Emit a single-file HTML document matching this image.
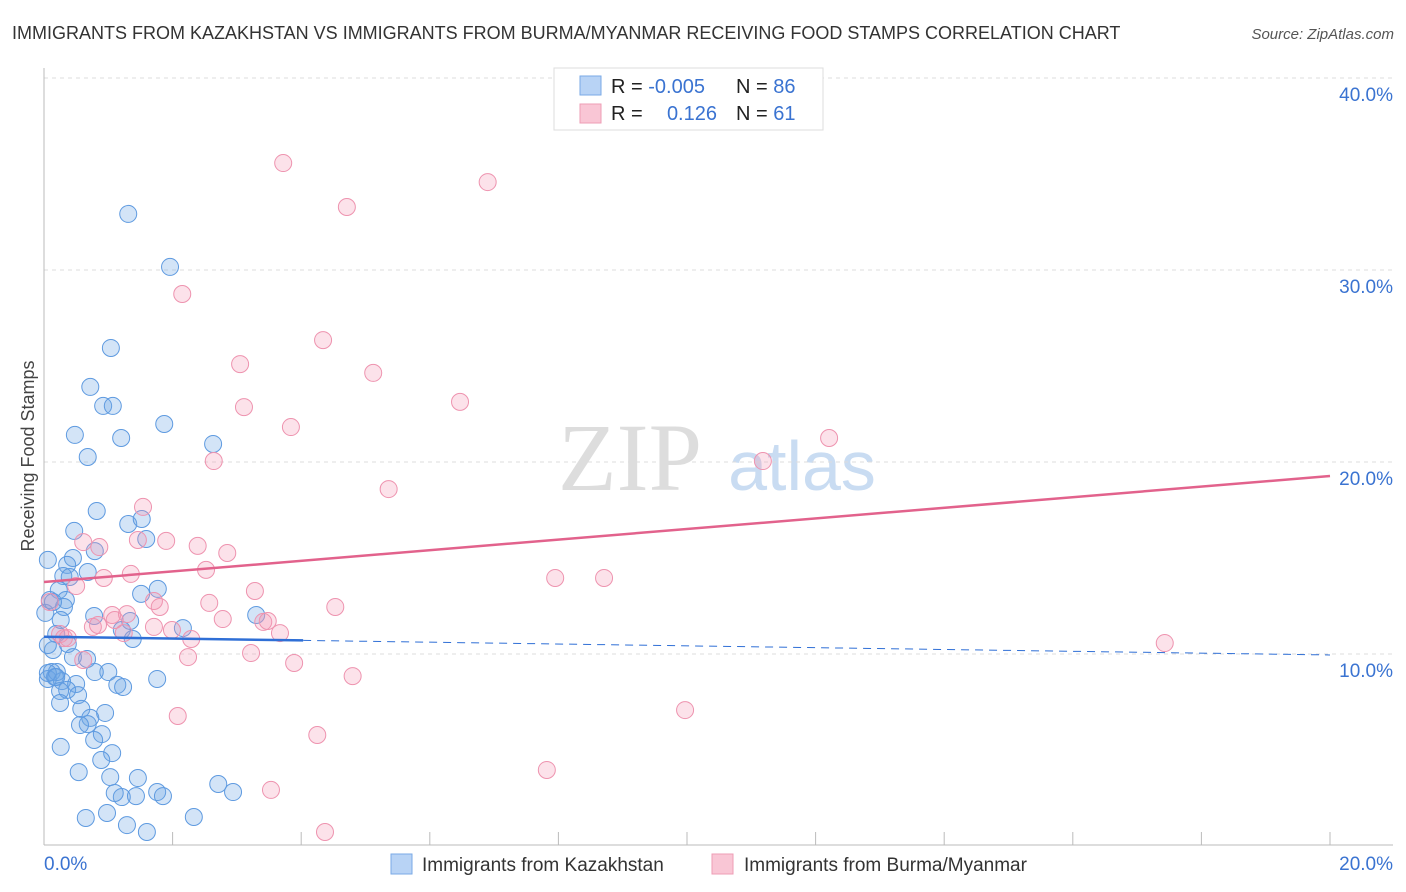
<!DOCTYPE html>
<html><head><meta charset="utf-8"><style>
body{margin:0;background:#fff;font-family:"Liberation Sans",sans-serif;}
svg{display:block}
</style></head><body>
<svg id="chart" width="1406" height="892" viewBox="0 0 1406 892" xmlns="http://www.w3.org/2000/svg">
<text x="12" y="39" font-size="18" fill="#333">IMMIGRANTS FROM KAZAKHSTAN VS IMMIGRANTS FROM BURMA/MYANMAR RECEIVING FOOD STAMPS CORRELATION CHART</text>
<text x="1394" y="39" font-size="15" fill="#555" font-style="italic" text-anchor="end">Source: ZipAtlas.com</text>
<text transform="translate(34,456) rotate(-90)" font-size="18" fill="#444" text-anchor="middle">Receiving Food Stamps</text>
<g>
<text x="630" y="490" font-size="96" fill="#ddd" font-family="Liberation Serif,serif" text-anchor="middle">ZIP</text>
<text x="802" y="490" font-size="70" fill="#c9dcf2" text-anchor="middle">atlas</text>
</g>
<g id="grid"></g><g id="axes"></g><g id="pts"></g><g id="trend"></g>
<g>
<rect x="554" y="68" width="269" height="62" fill="#fff" stroke="#ddd"/>
<rect x="580" y="76" width="21" height="19" fill="#b8d3f5" stroke="#7aaae6"/>
<rect x="580" y="104" width="21" height="19" fill="#f9c6d5" stroke="#ee9db5"/>
<text x="611" y="93" font-size="20" fill="#222">R = <tspan fill="#3a73d1">-0.005</tspan></text>
<text x="736" y="93" font-size="20" fill="#222">N = <tspan fill="#3a73d1">86</tspan></text>
<text x="611" y="120" font-size="20" fill="#222">R = </text>
<text x="717" y="120" font-size="20" fill="#3a73d1" text-anchor="end">0.126</text>
<text x="736" y="120" font-size="20" fill="#222">N = <tspan fill="#3a73d1"> 61</tspan></text>
</g>
<g>
<rect x="391" y="854" width="21" height="20" fill="#b8d3f5" stroke="#7aaae6"/>
<text x="422" y="871" font-size="19" fill="#333">Immigrants from Kazakhstan</text>
<rect x="712" y="854" width="21" height="20" fill="#f9c6d5" stroke="#ee9db5"/>
<text x="744" y="871" font-size="19" fill="#333">Immigrants from Burma/Myanmar</text>
</g>
</svg>
<script>
const xTickLabels=["0.0%","20.0%"];
const yTicks=[10,20,30,40];
const yTickLabels=["10.0%","20.0%","30.0%","40.0%"];
const blueX=[1.31,1.96,1.04,.72,.92,1.07,1.87,.48,1.20,2.63,.68,.82,1.31,1.52,.47,1.59,.06,.79,.45,.36,.30,.68,.40,.23,.34,.31,1.77,1.51,.78,1.34,1.21,2.16,3.30,1.38,.19,.37,.14,.45,.67,1.00,.79,.12,.17,.06,.28,.50,.36,.25,1.76,1.14,1.23,.53,.25,.58,.95,.72,.68,.56,.90,.78,1.06,.26,.89,.54,1.03,1.46,1.21,1.10,1.43,1.76,1.85,2.71,2.94,.65,.98,1.29,1.60,2.33,.09,.02,.14,.26,.06,.20,.06,.19];
const blueY=[32.92,30.16,25.94,23.91,22.92,22.92,21.98,21.41,21.25,20.94,20.26,17.45,16.77,17.03,16.41,15.99,14.90,15.36,15.00,14.64,14.06,14.27,14.01,13.33,12.81,12.45,13.39,13.13,11.98,11.72,11.25,11.35,12.03,10.78,11.04,10.52,10.21,9.84,9.74,9.06,9.06,9.06,8.80,8.70,8.59,8.44,8.13,8.07,8.70,8.39,8.28,7.86,7.45,7.14,6.93,6.67,6.35,6.30,5.83,5.52,4.84,5.16,4.48,3.85,3.59,3.54,2.55,2.76,2.60,2.81,2.60,3.23,2.81,1.46,1.72,1.09,.73,1.51,12.81,12.14,12.71,11.77,10.47,9.06,9.01,8.80];
const pinkX=[3.72,6.90,4.71,2.15,4.34,3.05,5.12,3.11,6.47,3.84,12.21,2.64,11.18,5.36,1.54,.61,.86,1.46,1.90,2.39,2.85,1.35,.93,2.52,.50,7.95,8.71,1.71,1.80,2.57,3.28,4.53,1.06,1.29,.76,1.71,2.78,3.41,3.48,1.99,3.67,2.29,1.24,1.10,.25,.31,.37,2.24,3.22,3.89,4.80,2.08,4.25,9.97,7.82,3.53,4.37,17.43,.09,.84,.61];
const pinkY=[35.57,34.58,33.28,28.75,26.35,25.10,24.64,22.86,23.13,21.82,21.25,20.05,20.05,18.59,17.66,15.83,15.57,15.94,15.89,15.63,15.26,14.17,13.96,14.38,13.54,13.96,13.96,12.76,12.45,12.66,13.28,12.45,12.03,12.08,11.41,11.41,11.82,11.67,11.72,11.25,11.09,10.78,11.09,11.77,11.04,10.83,10.83,9.84,10.05,9.53,8.85,6.77,5.78,7.08,3.96,2.92,.73,10.57,12.71,11.51,9.69];
const blueTrend=[10.9,9.95];
const pinkTrend=[13.75,19.27];

const NS="http://www.w3.org/2000/svg";
const X=v=>44+v/20*1286;
const Y=v=>846-v*19.2;
function mk(tag,attrs,parent){const e=document.createElementNS(NS,tag);for(const k in attrs)e.setAttribute(k,attrs[k]);document.getElementById(parent).appendChild(e);return e;}
yTicks.forEach((t,i)=>{
  const l=mk('line',{x1:44,x2:1393,y1:Y(t),y2:Y(t),stroke:'#ddd','stroke-dasharray':'4,4'},'grid');
  
  
  const tx=mk('text',{x:1393,y:Y(t)+23,'font-size':19,fill:'#3a73d1','text-anchor':'end'},'grid');
  tx.textContent=yTickLabels[i];
  
  
});
const ax=mk('line',{x1:44,x2:44,y1:68,y2:845,stroke:'#bbb'},'axes');


const bx=mk('line',{x1:44,x2:1393,y1:845,y2:845,stroke:'#bbb'},'axes');


for(let i=0;i<=10;i++){const t=mk('line',{x1:X(i*2),x2:X(i*2),y1:832,y2:845,stroke:'#bbb'},'axes');

}
const xl0=mk('text',{x:44,y:870,'font-size':19,fill:'#3a73d1'},'axes');xl0.textContent=xTickLabels[0];


const xl1=mk('text',{x:1393,y:870,'font-size':19,fill:'#3a73d1','text-anchor':'end'},'axes');xl1.textContent=xTickLabels[1];


blueX.forEach((v,i)=>{const c=mk('circle',{cx:X(v),cy:Y(blueY[i]),r:8.5,fill:'rgba(110,165,230,0.3)',stroke:'#5e9ae0','stroke-width':1},'pts');

});
pinkX.forEach((v,i)=>{const c=mk('circle',{cx:X(v),cy:Y(pinkY[i]),r:8.5,fill:'rgba(245,150,180,0.28)',stroke:'#ee93af','stroke-width':1},'pts');

});
const bxEnd=4.03;
const bAt=v=>blueTrend[0]+(blueTrend[1]-blueTrend[0])*v/20;
const b1=mk('line',{x1:X(0),y1:Y(bAt(0)),x2:X(bxEnd),y2:Y(bAt(bxEnd)),stroke:'#2f6fd6','stroke-width':2.5},'trend');


const b2=mk('line',{x1:X(bxEnd),y1:Y(bAt(bxEnd)),x2:X(20),y2:Y(bAt(20)),stroke:'#2f6fd6','stroke-width':1,'stroke-dasharray':'8,6'},'trend');


const p1=mk('line',{x1:X(0),y1:Y(pinkTrend[0]),x2:X(20),y2:Y(pinkTrend[1]),stroke:'#e2628c','stroke-width':2.5},'trend');


</script>
</body></html>
